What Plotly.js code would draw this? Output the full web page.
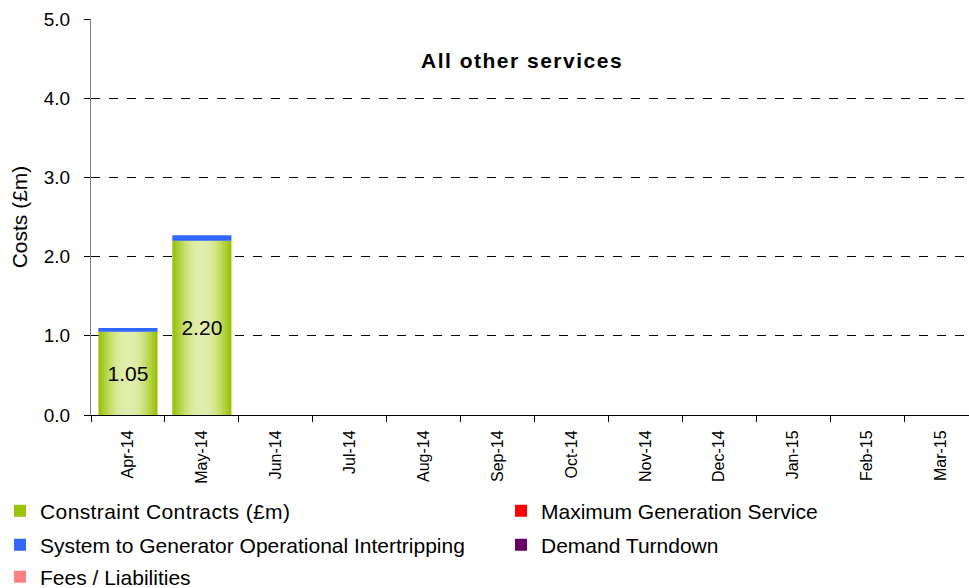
<!DOCTYPE html>
<html>
<head>
<meta charset="utf-8">
<script src="https://cdn.plot.ly/plotly-3.0.1.min.js"></script>
<style>html,body{margin:0;padding:0;overflow:hidden;background:#fff;}
.annotation-text{letter-spacing:1.5px;}
.legendtext{letter-spacing:0.4px;}</style>
</head>
<body>
<div id="chart"></div>
<script>
const months = ["Apr-14","May-14","Jun-14","Jul-14","Aug-14","Sep-14","Oct-14","Nov-14","Dec-14","Jan-15","Feb-15","Mar-15"];
const constraintContracts = [1.05, 2.20, null, null, null, null, null, null, null, null, null, null];
const intertripping = [0.05, 0.07, null, null, null, null, null, null, null, null, null, null];
const maxGeneration = [null, null, null, null, null, null, null, null, null, null, null, null];
const demandTurndown = [null, null, null, null, null, null, null, null, null, null, null, null];
const feesLiabilities = [null, null, null, null, null, null, null, null, null, null, null, null];
const labelText = ["1.05", "2.20", "", "", "", "", "", "", "", "", "", ""];

// styling for the cylinder-like gradient of the green bars
const gradWidths = [0.8, 0.72, 0.64, 0.56, 0.48, 0.40, 0.32, 0.24, 0.16, 0.08];
const gradColors = ["#98c40c", "#a6cc2a", "#b3d344", "#bfda5c", "#c9e074", "#d2e588", "#d9e998", "#deeba4", "#e0eca9", "#e1edac"];
const fontFam = "Liberation Sans, Arial, sans-serif";

const traces = [];
gradWidths.forEach((w, i) => {
  traces.push({
    type: "bar", x: months, y: constraintContracts,
    width: months.map(() => w),
    marker: {color: gradColors[i], line: {width: 0}},
    name: "Constraint Contracts (£m)",
    showlegend: i === 0, legend: "legend",
    hoverinfo: "skip"
  });
});
traces.push({
  type: "bar", x: months, y: constraintContracts, width: months.map(() => 0.8),
  marker: {color: "rgba(0,0,0,0)"}, text: labelText, textposition: "inside",
  insidetextanchor: "middle", constraintext: "none",
  textfont: {size: 21, color: "#000", family: fontFam},
  showlegend: false, hoverinfo: "skip"
});
traces.push({
  type: "bar", x: months, y: intertripping, base: constraintContracts,
  width: months.map(() => 0.8),
  marker: {color: "#3366ff"}, name: "System to Generator Operational Intertripping",
  legend: "legend2", textposition: "none"
});
traces.push({type: "bar", x: months, y: maxGeneration, marker: {color: "#ff0000"},
  name: "Maximum Generation Service", legend: "legend4"});
traces.push({type: "bar", x: months, y: demandTurndown, marker: {color: "#660066"},
  name: "Demand Turndown", legend: "legend5"});
traces.push({type: "bar", x: months, y: feesLiabilities, marker: {color: "#ff8080"},
  name: "Fees / Liabilities", legend: "legend3"});

const legBase = {orientation: "h", xref: "paper", yref: "container", xanchor: "left", yanchor: "middle",
  font: {size: 21, family: fontFam, color: "#000"},
  bgcolor: "rgba(0,0,0,0)", itemwidth: 30, traceorder: "normal"};
const col1 = (-2 - 91) / 887, col2 = (501 - 91) / 887;

const layout = {
  width: 980, height: 588,
  margin: {l: 91, r: 2, t: 19, b: 173},
  paper_bgcolor: "#fff", plot_bgcolor: "#fff",
  barmode: "overlay",
  font: {family: fontFam, color: "#000", size: 18},
  annotations: [{text: "<b>All other services</b>", xref: "paper", yref: "paper",
    x: 0.486, y: 0.896, xanchor: "center", yanchor: "middle", showarrow: false,
    font: {size: 21, family: fontFam, color: "#000"}}],
  xaxis: {type: "category", showline: true, linecolor: "#000", linewidth: 1,
    tickson: "boundaries", ticks: "outside", ticklen: 6, tickcolor: "#000",
    tickangle: -90, tickfont: {size: 16, family: fontFam}, showgrid: false,
    ticklabelstandoff: 8, range: [-0.5, 11.5], fixedrange: true},
  yaxis: {range: [0, 5], dtick: 1, tickformat: ".1f", showline: true, linecolor: "#808080",
    linewidth: 1, ticks: "outside", ticklen: 6, tickcolor: "#000",
    showgrid: true, gridcolor: "#000", griddash: "dash", gridwidth: 1,
    zeroline: false, tickfont: {size: 19, family: fontFam}, ticklabelstandoff: 10,
    title: {text: "Costs (£m)", font: {size: 21, family: fontFam}, standoff: 10}},
  showlegend: true,
  legend: Object.assign({}, legBase, {x: col1, y: 1 - 511 / 588}),
  legend2: Object.assign({}, legBase, {x: col1, y: 1 - 545 / 588}),
  legend3: Object.assign({}, legBase, {x: col1, y: 1 - 577 / 588}),
  legend4: Object.assign({}, legBase, {x: col2, y: 1 - 511 / 588}),
  legend5: Object.assign({}, legBase, {x: col2, y: 1 - 545 / 588})
};

Plotly.newPlot("chart", traces, layout, {displayModeBar: false, staticPlot: true});
</script>
</body>
</html>
